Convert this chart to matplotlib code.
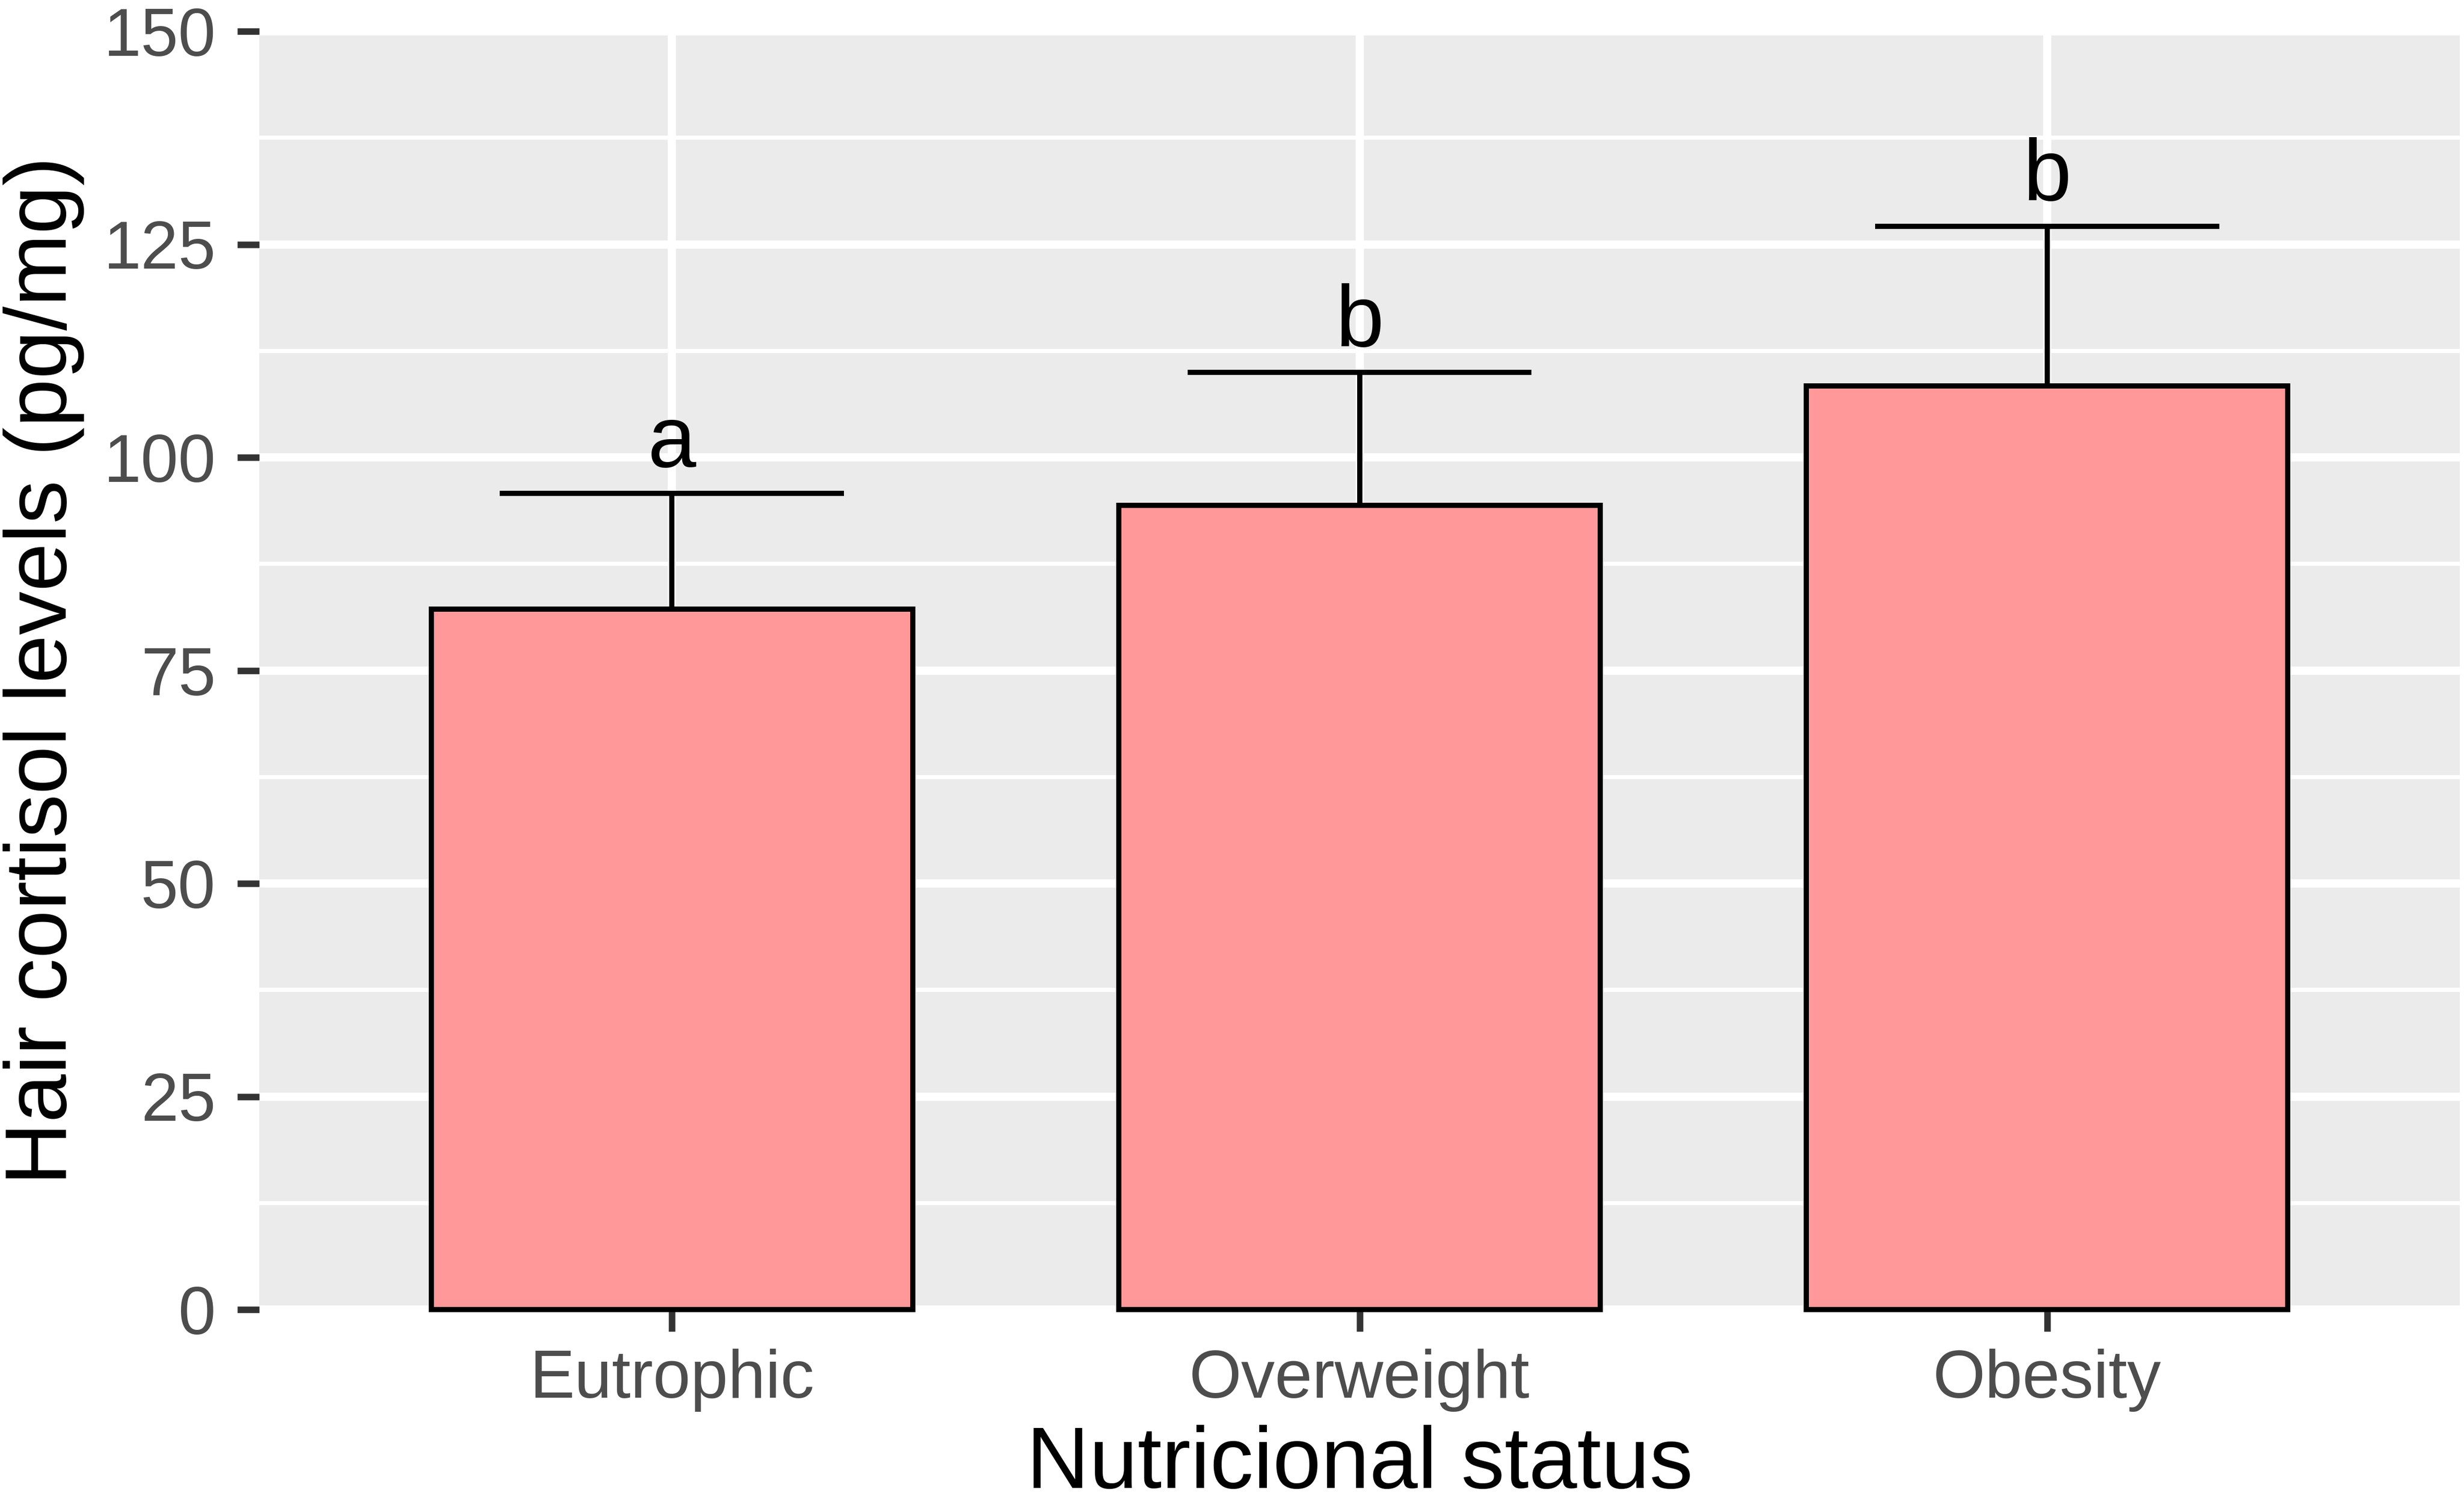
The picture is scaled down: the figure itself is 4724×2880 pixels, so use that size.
import matplotlib
matplotlib.use("Agg")
import matplotlib.pyplot as plt
import numpy as np
from matplotlib.ticker import MultipleLocator

categories = ["Eutrophic", "Overweight", "Obesity"]
means = [82.2, 94.4, 108.4]
upper = [95.8, 110.0, 127.1]
letters = ["a", "b", "b"]
yticks = [0, 25, 50, 75, 100, 125, 150]

plt.rcParams['font.family'] = ['Liberation Sans', 'DejaVu Sans']

DPI = 300
fig = plt.figure(figsize=(4724 / DPI, 2880 / DPI), dpi=DPI)
W, H = 4724, 2880
left, right, top, bottom = 497, 4716, 60, 2511
ax = fig.add_axes([left / W, 1 - bottom / H, (right - left) / W, (bottom - top) / H])

ax.set_facecolor("#EBEBEB")
x = np.arange(1, len(categories) + 1)

# grid
ax.set_axisbelow(True)
ax.yaxis.set_minor_locator(MultipleLocator(12.5))
ax.grid(which="major", axis="both", color="white", linewidth=3.8)
ax.grid(which="minor", axis="y", color="white", linewidth=1.9)

# error bars (upper only)
err = [u - m for u, m in zip(upper, means)]
ax.errorbar(x, means, yerr=[np.zeros(len(err)), err], fmt="none", ecolor="black",
            elinewidth=2.4, capsize=0, zorder=2)
ax.hlines(upper, x - 0.25, x + 0.25, colors="black", linewidth=2.4, zorder=2)

ax.bar(x, means, width=0.7, color="#FF9999", edgecolor="black", linewidth=2.4,
       zorder=3, clip_on=False)

for xi, u, lab in zip(x, upper, letters):
    ax.text(xi, u + 3.1, lab, ha="center", va="baseline", fontsize=40, color="black")

ax.set_xlim(0.4, 3.6)
ax.set_ylim(0, 150)
ax.set_xticks(x)
ax.set_xticklabels(categories)
ax.set_yticks(yticks)
ax.set_yticklabels([str(v) for v in yticks])
ax.tick_params(axis="both", which="major", length=10, width=3, color="#333333",
               labelsize=31, labelcolor="#4D4D4D")
ax.tick_params(axis="x", pad=8)
ax.tick_params(axis="y", pad=10)
ax.tick_params(which="minor", length=0)
for s in ax.spines.values():
    s.set_visible(False)

fig.text(84 / W, 1 - ((top + bottom) / 2) / H, "Hair cortisol levels (pg/mg)",
         rotation=90, ha="center", va="center", fontsize=40, color="black")
fig.text(((left + right) / 2) / W, 1 - 2810 / H, "Nutricional status",
         ha="center", va="center", fontsize=40, color="black")

fig.savefig("out.png", dpi=DPI, facecolor="white")
